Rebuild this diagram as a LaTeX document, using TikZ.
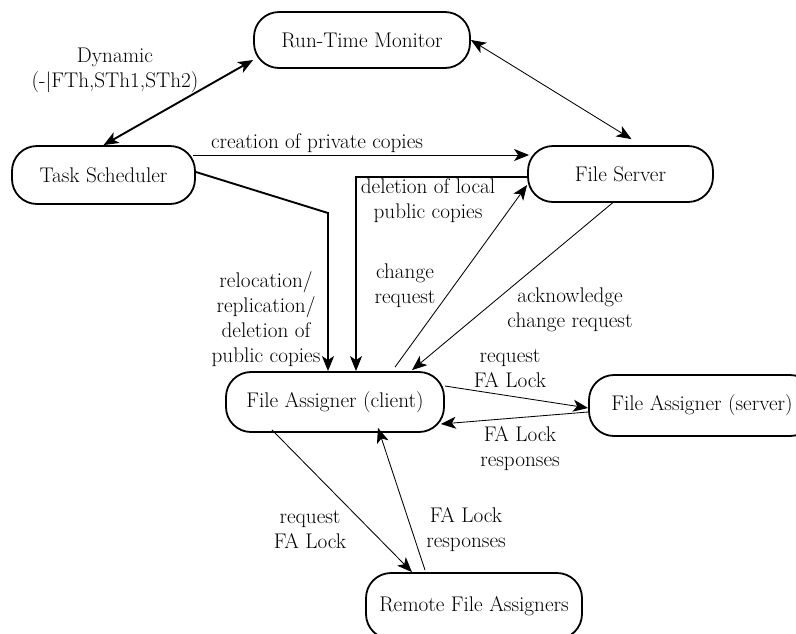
\documentclass[tikz,border=0pt]{standalone}
\usetikzlibrary{arrows.meta}
\begin{document}
\begin{tikzpicture}[x=1pt,y=-1pt,
  every node/.style={font=\fontsize{21.2}{25}\selectfont, text=black},
  proc/.style={draw, line width=1.8pt, rounded corners=25pt, inner sep=0pt},
  lbl/.style={align=center, inner sep=0pt},
  tip/.style={-{Stealth[length=15pt,width=12pt,inset=4pt]}},
  duo/.style={{Stealth[length=15pt,width=12pt,inset=4pt]}-{Stealth[length=15pt,width=12pt,inset=4pt]}},
  heavy/.style={line width=1.9pt},
  light/.style={line width=0.85pt}]
\clip (0,0) rectangle (796,633);

% processes
\node[proc, minimum width=216pt, minimum height=56pt] (rtm) at (362,40) {Run-Time Monitor};
\node[proc, minimum width=183pt, minimum height=58pt] (ts) at (103.5,175) {Task Scheduler};
\node[proc, minimum width=185pt, minimum height=56pt] (fs) at (620.5,174) {File Server};
\node[proc, minimum width=218pt, minimum height=60pt] (fac) at (335,402) {File Assigner (client)};
\node[proc, minimum width=226pt, minimum height=61pt] (fas) at (702,405.5) {File Assigner (server)};
\node[proc, minimum width=216pt, minimum height=66pt] (rfa) at (474,606) {Remote File Assigners};

% bend points of the routed connectors
\coordinate (tsbend) at (328,213);
\coordinate (fsbend) at (356,177);

% scheduler and monitor
\draw[heavy, duo] (ts.north) -- ([yshift=-20pt]rtm.west);
\node[lbl] (dyn) at (115,70) {Dynamic\\(-$|$FTh,STh1,STh2)};

\draw[light, duo] (rtm.east) -- ([xshift=11pt,yshift=6pt]fs.north);

% private copies
\draw[light, tip] ([xshift=-3pt,yshift=20pt]ts.east) -- ([xshift=2pt,yshift=19pt]fs.west);
\node[lbl] (cpc) at (317,143) {creation of private copies};

% public copies
\draw[heavy, tip] ([yshift=3pt]ts.east) -- (tsbend) -- (tsbend |- fac.north);
\node[lbl] (rrd) at (266,319.5) {relocation/\\replication/\\deletion of\\public copies};

\draw[heavy, tip] ([yshift=-3pt]fs.west) -| (fsbend |- fac.north);
\node[lbl] (dlp) at (428,201) {deletion of local\\public copies};

% change requests
\draw[light, tip] ([xshift=60pt,yshift=4pt]fac.north) -- ([yshift=-11pt]fs.west);
\node[lbl] (chr) at (405,285.5) {change\\request};

\draw[light, tip] ([xshift=-8pt]fs.south) -- ([xshift=77pt,yshift=1pt]fac.north);
\node[lbl] (ack) at (570,309.5) {acknowledge\\change request};

% FA lock with the server
\draw[light, tip] ([yshift=16pt]fac.east) -- ([yshift=-2.5pt]fas.west);
\node[lbl] (rq1) at (510,369) {request\\FA Lock};
\draw[light, tip] ([yshift=-6.5pt]fas.west) -- ([xshift=-4pt,yshift=-22pt]fac.east);
\node[lbl] (rs1) at (520,448.5) {FA Lock\\responses};

% FA lock with the remote assigners
\draw[light, tip] ([xshift=-63pt,yshift=3pt]fac.south) -- ([xshift=-62pt]rfa.north);
\node[lbl] (rq2) at (310,529.5) {request\\FA Lock};
\draw[light, tip] ([xshift=-49pt,yshift=2pt]rfa.north) -- ([xshift=43pt,yshift=5pt]fac.south);
\node[lbl] (rs2) at (466,529.5) {FA Lock\\responses};
\end{tikzpicture}
\end{document}
